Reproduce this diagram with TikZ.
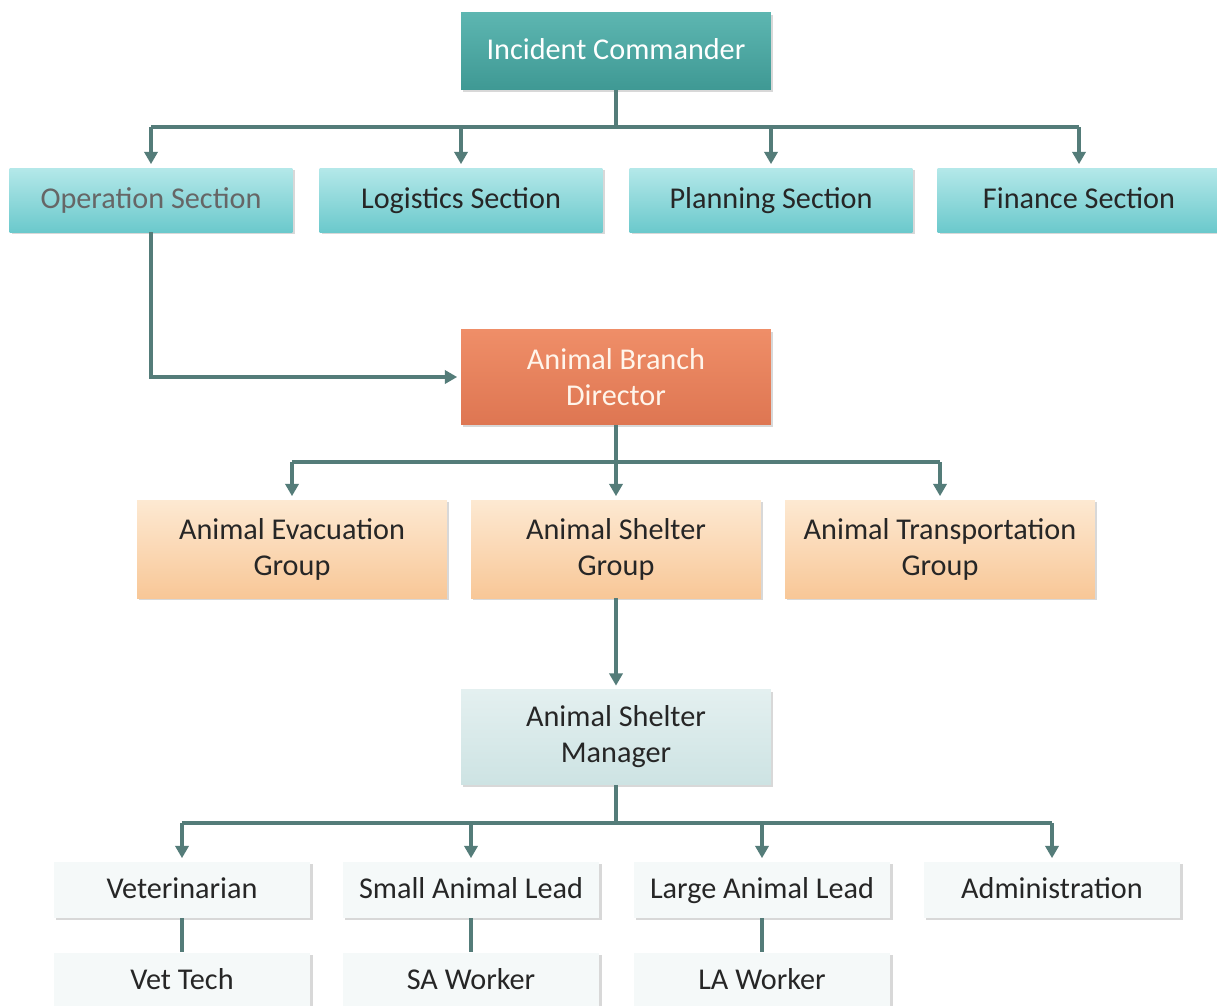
\documentclass[tikz,border=0pt]{standalone}
\usepackage{fontspec}
\setmainfont{Carlito}
\usetikzlibrary{arrows.meta, positioning, shadows}

\definecolor{linkgray}{HTML}{547C79}
\definecolor{tealdark}{HTML}{3F9994}
\definecolor{teallight}{HTML}{5DB6B1}
\definecolor{cyantop}{HTML}{B4E8E9}
\definecolor{cyanbot}{HTML}{6BC9CC}
\definecolor{orangetop}{HTML}{EF8E68}
\definecolor{orangebot}{HTML}{DE7652}
\definecolor{peachtop}{HTML}{FDE9D2}
\definecolor{peachbot}{HTML}{F8C797}
\definecolor{mgrtop}{HTML}{E4F0F0}
\definecolor{mgrbot}{HTML}{CDE3E3}
\definecolor{stafffill}{HTML}{F5F9F9}

\begin{document}
\begin{tikzpicture}[
    x=0.02cm, y=-0.02cm,
    box/.style={rectangle, inner sep=2pt, align=center,
        font=\fontsize{17.2}{20.5}\selectfont,
        drop shadow={shadow xshift=1.3pt, shadow yshift=-1.3pt, opacity=0.3, fill=gray}},
    oneline/.style={text height=13pt, text depth=3pt},
    command/.style={box, oneline, top color=teallight, bottom color=tealdark, text=white,
        minimum width=6.2cm, minimum height=1.54cm},
    section/.style={box, oneline, top color=cyantop, bottom color=cyanbot, text=black!85,
        minimum width=5.66cm, minimum height=1.28cm},
    branch/.style={box, top color=orangetop, bottom color=orangebot, text=white!92!orange,
        minimum width=6.2cm, minimum height=1.9cm},
    group/.style={box, top color=peachtop, bottom color=peachbot, text=black!85,
        minimum width=6.2cm, minimum height=1.96cm},
    manager/.style={box, top color=mgrtop, bottom color=mgrbot, text=black!85,
        minimum width=6.2cm, minimum height=1.9cm},
    staff/.style={box, oneline, fill=stafffill, text=black!85,
        minimum width=5.14cm, minimum height=1.12cm},
    link/.style={draw=linkgray, line width=2pt},
    arrow/.style={link, -{Triangle[length=7pt, width=7.5pt]}, shorten >=2pt}
]
    \clip (0,0) rectangle (1217,1005);
    \fill[white] (0,0) rectangle (1217,1005);

    % Command and sections
    \node[command] (ic) at (616,51) {Incident Commander};
    \node[section, text=black!60] (ops) at (151,200) {Operation Section};
    \node[section] (logi) at (461,200) {Logistics Section};
    \node[section] (plan) at (771,200) {Planning Section};
    \node[section] (fin) at (1079,200) {Finance Section};

    % Animal branch
    \node[branch] (abd) at (616,377) {Animal Branch\\Director};
    \node[group] (evac) at (292,549) {Animal Evacuation\\Group};
    \node[group, minimum width=5.8cm] (shelter) at (616,549) {Animal Shelter\\Group};
    \node[group] (transp) at (940,549) {Animal Transportation\\Group};

    % Shelter staff
    \node[manager] (asm) at (616,737) {Animal Shelter\\Manager};
    \node[staff] (vet) at (182,890) {Veterinarian};
    \node[staff] (small) at (471,890) {Small Animal Lead};
    \node[staff] (large) at (762,890) {Large Animal Lead};
    \node[staff] (admin) at (1052,890) {Administration};
    \node[staff, below=0.68cm of vet] (vettech) {Vet Tech};
    \node[staff, below=0.68cm of small] (saworker) {SA Worker};
    \node[staff, below=0.68cm of large] (laworker) {LA Worker};

    % Bus lines
    \coordinate (icbus) at (616,127);
    \coordinate (abdbus) at (616,462);
    \coordinate (asmbus) at (616,823);

    \draw[link] (ic.south) -- (icbus);
    \draw[link] (icbus -| ops) -- (icbus -| fin);
    \foreach \s in {ops,logi,plan,fin} {
        \draw[arrow] (\s |- icbus) -- (\s.north);
    }

    \draw[arrow] (ops.south) |- (abd.west);

    \draw[link] (abd.south) -- (abdbus);
    \draw[link] (abdbus -| evac) -- (abdbus -| transp);
    \foreach \g in {evac,shelter,transp} {
        \draw[arrow] (\g |- abdbus) -- (\g.north);
    }

    \draw[arrow] (shelter.south) -- (asm.north);

    \draw[link] (asm.south) -- (asmbus);
    \draw[link] (asmbus -| vet) -- (asmbus -| admin);
    \foreach \t in {vet,small,large,admin} {
        \draw[arrow] (\t |- asmbus) -- (\t.north);
    }

    % Leads to workers
    \draw[link] (vet) -- (vettech);
    \draw[link] (small) -- (saworker);
    \draw[link] (large) -- (laworker);
\end{tikzpicture}
\end{document}
